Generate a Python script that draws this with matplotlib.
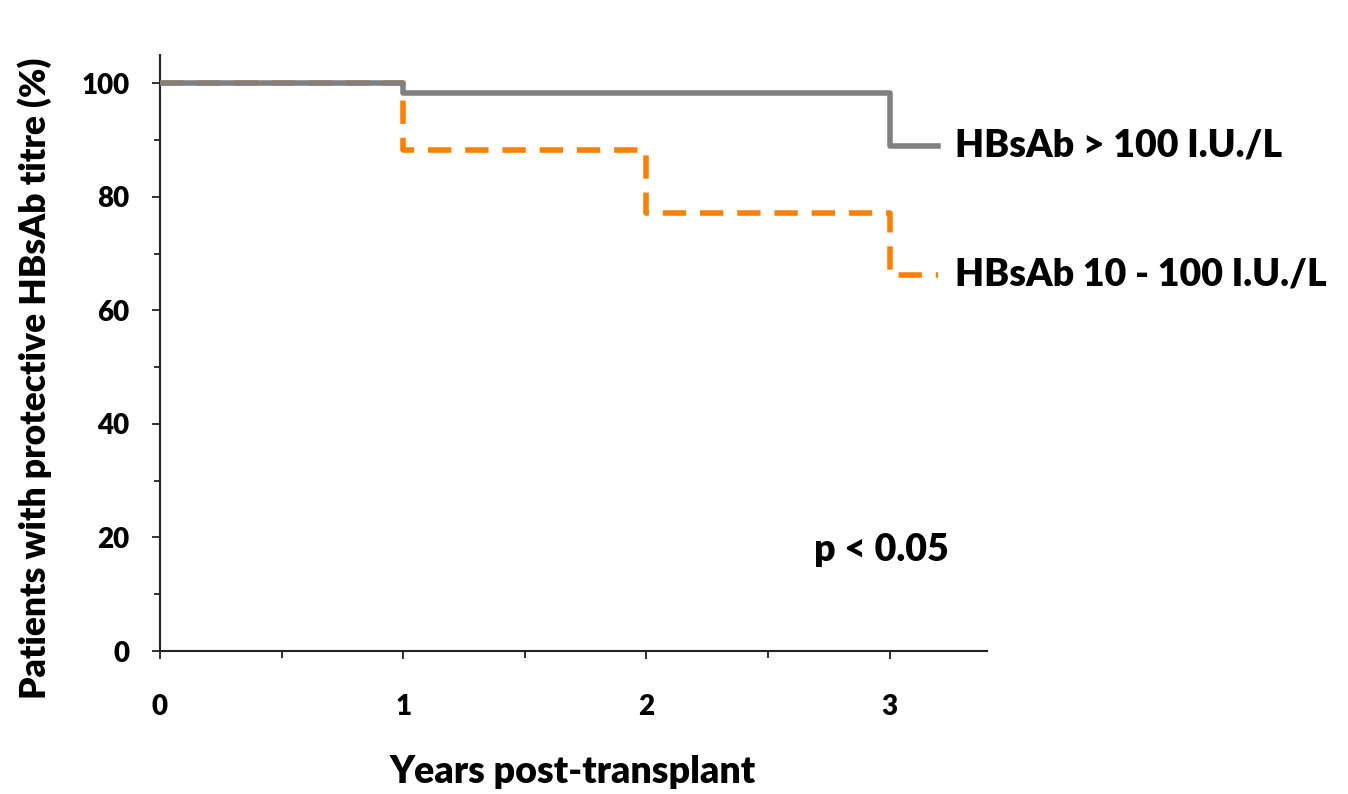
import matplotlib
matplotlib.use("Agg")
import matplotlib.pyplot as plt
from matplotlib.ticker import MultipleLocator

plt.rcParams['font.family'] = ['Lato', 'DejaVu Sans']
plt.rcParams['font.weight'] = 'heavy'

# Data
years = [0, 1, 2, 3, 3.2]
high_titre = [100, 98.3, 98.3, 89.0, 89.0]     # HBsAb > 100 I.U./L
mid_titre = [100, 88.3, 77.2, 66.3, 66.3]      # HBsAb 10 - 100 I.U./L
label_high = "HBsAb > 100 I.U./L"
label_mid = "HBsAb 10 - 100 I.U./L"
xticks = [0, 1, 2, 3]
yticks = [0, 20, 40, 60, 80, 100]

FW = 'heavy'
W, H = 1348, 794
fig = plt.figure(figsize=(W / 100, H / 100), dpi=100)
ax = fig.add_axes([160 / W, 1 - 651 / H, (987 - 160) / W, (651 - 55) / H])

l2, = ax.step(years, mid_titre, where='post', color='#FF8000', lw=4.0,
              solid_joinstyle='miter', zorder=2)
l2.set_dashes([4.2, 2.5])
l2.set_dash_capstyle('butt')
ax.step(years, high_titre, where='post', color='#808080', lw=4.0, zorder=3,
        solid_joinstyle='round')

ax.set_xlim(0, 3.4)
ax.set_ylim(0, 105)
ax.spines['top'].set_visible(False)
ax.spines['right'].set_visible(False)
for s in ('left', 'bottom'):
    ax.spines[s].set_linewidth(1.5)
    ax.spines[s].set_color('#222222')

ax.set_xticks(xticks)
ax.set_xticklabels([str(t) for t in xticks], fontsize=20, fontweight=FW)
ax.xaxis.set_minor_locator(MultipleLocator(0.5))
ax.set_yticks(yticks)
ax.set_yticklabels([str(t) for t in yticks], fontsize=20, fontweight=FW)
ax.yaxis.set_minor_locator(MultipleLocator(10))
ax.tick_params(axis='x', which='major', direction='out', length=6, width=1.3,
               pad=25, color='#222222')
ax.tick_params(axis='x', which='minor', direction='out', length=5, width=1.3,
               color='#222222')
ax.tick_params(axis='y', which='major', direction='out', length=6, width=1.3,
               pad=16, color='#222222')
ax.tick_params(axis='y', which='minor', direction='out', length=4, width=1.3,
               color='#222222')

ax.text(3.27, high_titre[-1], label_high, fontsize=27, fontweight=FW,
        va='center', ha='left')
ax.text(3.27, mid_titre[-1], label_mid, fontsize=27, fontweight=FW,
        va='center', ha='left')
ax.text(2.69, 17.8, "p < 0.05", fontsize=27, fontweight=FW,
        va='center', ha='left')

fig.text(573 / W, 1 - 772 / H, "Years post-transplant", fontsize=27,
         fontweight=FW, ha='center', va='center')
fig.text(35 / W, 1 - 378 / H, "Patients with protective HBsAb titre (%)",
         fontsize=25.5, fontweight=FW, ha='center', va='center', rotation=90)

fig.savefig("out.png", dpi=100)
